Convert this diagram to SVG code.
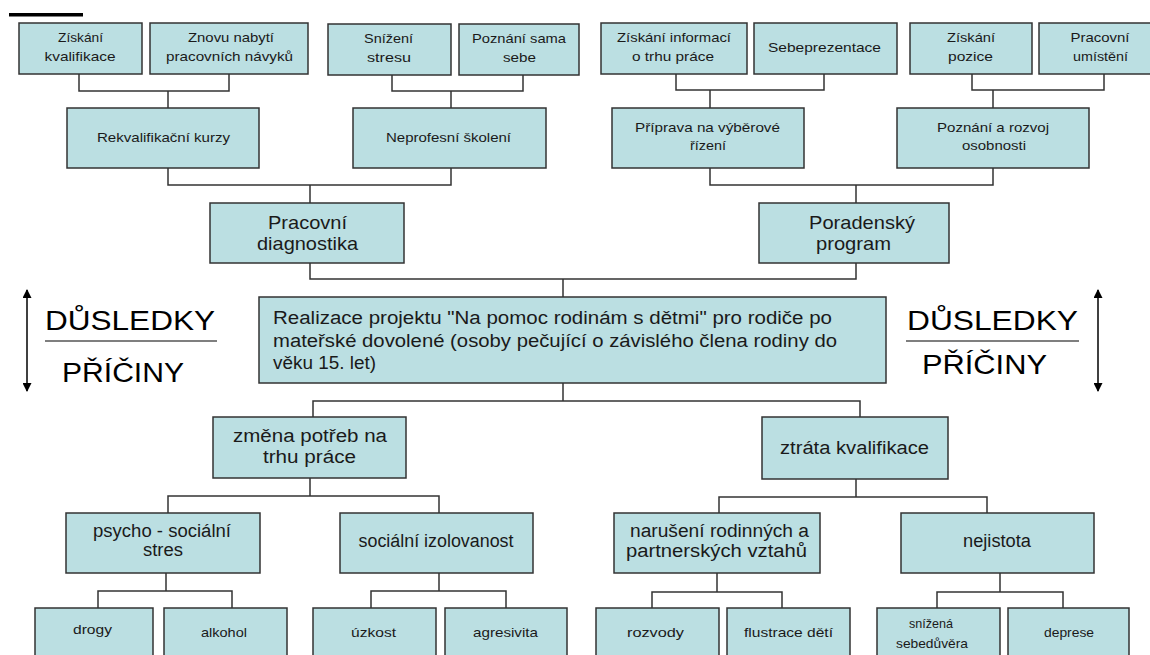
<svg xmlns="http://www.w3.org/2000/svg" width="1150" height="655" viewBox="0 0 1150 655">
<style>
.b{fill:#bbdfe2;stroke:#333;stroke-width:1.5}
.c{fill:none;stroke:#333;stroke-width:1.5}
text{font-family:"Liberation Sans",Arial,sans-serif;fill:#1a1a1a;text-anchor:middle}
.s{font-size:13px}
.m{font-size:18px}
.l{font-size:19px}
.big{font-size:27px;text-anchor:start;fill:#000}
.main{font-size:18px;text-anchor:start}
.ax{stroke:#000;stroke-width:1.5;fill:none}
</style>
<defs>
<marker id="ah" viewBox="0 0 10 10" refX="9" refY="5" markerWidth="10" markerHeight="9" markerUnits="userSpaceOnUse" orient="auto-start-reverse">
<path d="M0,0 L10,5 L0,10 Z" fill="#000"/>
</marker>
</defs>
<rect x="9" y="13" width="74" height="3.5" fill="#000"/>

<g id="connectors">
<path class="c" d="M79,74 V91 H229 V74 M168,91 V108"/>
<path class="c" d="M392,75 V91 H523 V75 M451,91 V108"/>
<path class="c" d="M676,74 V90 H824 V74 M710,90 V108"/>
<path class="c" d="M972,74 V90 H1104 V74 M993,90 V108"/>
<path class="c" d="M168,168 V185 H451 V168 M310,185 V203"/>
<path class="c" d="M710,168 V185 H993 V168 M856,185 V203"/>
<path class="c" d="M310,263 V279 H856 V263 M563,279 V297"/>
<path class="c" d="M563,383 V401 M313,417 V401 H860 V417"/>
<path class="c" d="M310,478 V496 M168,513 V496 H439 V513"/>
<path class="c" d="M856,479 V497 M719,513 V497 H987 V513"/>
<path class="c" d="M166,573 V591 M98,608 V591 H232 V608"/>
<path class="c" d="M439,573 V591 M371,608 V591 H506 V608"/>
<path class="c" d="M717,573 V592 M652,608 V592 H782 V608"/>
<path class="c" d="M1000,573 V592 M937,608 V592 H1063 V608"/>
</g>

<g id="n-ziskani-kval"><rect class="b" x="19" y="23" width="123" height="51"/><text class="s" x="80.5" y="42" textLength="45" lengthAdjust="spacingAndGlyphs">Získání</text><text class="s" x="80" y="61" textLength="71" lengthAdjust="spacingAndGlyphs">kvalifikace</text></g>
<g id="n-znovu"><rect class="b" x="150" y="23" width="158" height="51"/><text class="s" x="231" y="42" textLength="86" lengthAdjust="spacingAndGlyphs">Znovu nabytí</text><text class="s" x="229.5" y="61" textLength="127" lengthAdjust="spacingAndGlyphs">pracovních návyků</text></g>
<g id="n-snizeni"><rect class="b" x="328" y="24" width="123" height="51"/><text class="s" x="388.5" y="43" textLength="49" lengthAdjust="spacingAndGlyphs">Snížení</text><text class="s" x="389" y="62" textLength="44" lengthAdjust="spacingAndGlyphs">stresu</text></g>
<g id="n-poznani-sama"><rect class="b" x="459" y="24" width="120" height="51"/><text class="s" x="519" y="43" textLength="94" lengthAdjust="spacingAndGlyphs">Poznání sama</text><text class="s" x="519.5" y="62" textLength="33" lengthAdjust="spacingAndGlyphs">sebe</text></g>
<g id="n-ziskani-inf"><rect class="b" x="601" y="23" width="146" height="51"/><text class="s" x="674" y="42" textLength="114" lengthAdjust="spacingAndGlyphs">Získání informací</text><text class="s" x="673" y="61" textLength="82" lengthAdjust="spacingAndGlyphs">o trhu práce</text></g>
<g id="n-sebeprezentace"><rect class="b" x="754" y="23" width="143" height="51"/><text class="s" x="824.5" y="52" textLength="113" lengthAdjust="spacingAndGlyphs">Sebeprezentace</text></g>
<g id="n-ziskani-pozice"><rect class="b" x="910" y="23" width="122" height="51"/><text class="s" x="971" y="42" textLength="48" lengthAdjust="spacingAndGlyphs">Získání</text><text class="s" x="970.5" y="61" textLength="45" lengthAdjust="spacingAndGlyphs">pozice</text></g>
<g id="n-pracovni-umisteni"><rect class="b" x="1039" y="23" width="122" height="51"/><text class="s" x="1100" y="42" textLength="59" lengthAdjust="spacingAndGlyphs">Pracovní</text><text class="s" x="1100.5" y="61" textLength="55" lengthAdjust="spacingAndGlyphs">umístění</text></g>

<g id="n-rekval"><rect class="b" x="67" y="108" width="192" height="60"/><text class="s" x="163.5" y="142" textLength="133" lengthAdjust="spacingAndGlyphs">Rekvalifikační kurzy</text></g>
<g id="n-neprof"><rect class="b" x="353" y="108" width="193" height="60"/><text class="s" x="448.5" y="142" textLength="125" lengthAdjust="spacingAndGlyphs">Neprofesní školení</text></g>
<g id="n-priprava"><rect class="b" x="612" y="108" width="192" height="60"/><text class="s" x="707.5" y="132" textLength="145" lengthAdjust="spacingAndGlyphs">Příprava na výběrové</text><text class="s" x="708" y="150" textLength="36" lengthAdjust="spacingAndGlyphs">řízení</text></g>
<g id="n-poznani-rozvoj"><rect class="b" x="897" y="108" width="192" height="60"/><text class="s" x="993" y="132" textLength="112" lengthAdjust="spacingAndGlyphs">Poznání a rozvoj</text><text class="s" x="994" y="150" textLength="64" lengthAdjust="spacingAndGlyphs">osobnosti</text></g>

<g id="n-prac-diag"><rect class="b" x="210" y="203" width="194" height="60"/><text class="l" x="307.5" y="229" textLength="79" lengthAdjust="spacingAndGlyphs">Pracovní</text><text class="l" x="307.5" y="250" textLength="101" lengthAdjust="spacingAndGlyphs">diagnostika</text></g>
<g id="n-poradensky"><rect class="b" x="759" y="203" width="190" height="60"/><text class="l" x="862" y="229" textLength="106" lengthAdjust="spacingAndGlyphs">Poradenský</text><text class="l" x="853.5" y="250" textLength="75" lengthAdjust="spacingAndGlyphs">program</text></g>

<g id="n-main"><rect class="b" x="259" y="297" width="627" height="86"/>
<text class="main" x="273" y="324" textLength="559" lengthAdjust="spacingAndGlyphs">Realizace projektu "Na pomoc rodinám s dětmi" pro rodiče po</text>
<text class="main" x="273" y="346.5" textLength="564" lengthAdjust="spacingAndGlyphs">mateřské dovolené (osoby pečující o závislého člena rodiny do</text>
<text class="main" x="273" y="369" textLength="103" lengthAdjust="spacingAndGlyphs">věku 15. let)</text></g>

<g id="legend-left">
<line class="ax" x1="27" y1="290" x2="27" y2="391" marker-start="url(#ah)" marker-end="url(#ah)"/>
<text class="big" x="45" y="330" textLength="170" lengthAdjust="spacingAndGlyphs">DŮSLEDKY</text>
<line x1="45" y1="341" x2="217" y2="341" stroke="#000" stroke-width="1.2"/>
<text class="big" x="62" y="382" textLength="122" lengthAdjust="spacingAndGlyphs">PŘÍČINY</text>
</g>
<g id="legend-right">
<line class="ax" x1="1098" y1="290" x2="1098" y2="391" marker-start="url(#ah)" marker-end="url(#ah)"/>
<text class="big" x="907" y="330" textLength="171" lengthAdjust="spacingAndGlyphs">DŮSLEDKY</text>
<line x1="906" y1="341" x2="1079" y2="341" stroke="#000" stroke-width="1.2"/>
<text class="big" x="922" y="374" textLength="125" lengthAdjust="spacingAndGlyphs">PŘÍČINY</text>
</g>

<g id="n-zmena"><rect class="b" x="213" y="417" width="193" height="61"/><text class="m" x="310" y="442" textLength="154" lengthAdjust="spacingAndGlyphs">změna potřeb na</text><text class="m" x="309.5" y="463" textLength="93" lengthAdjust="spacingAndGlyphs">trhu práce</text></g>
<g id="n-ztrata"><rect class="b" x="762" y="417" width="186" height="62"/><text class="m" x="854.5" y="454" textLength="149" lengthAdjust="spacingAndGlyphs">ztráta kvalifikace</text></g>

<g id="n-psycho"><rect class="b" x="66" y="513" width="194" height="60"/><text class="m" x="162" y="537" textLength="138" lengthAdjust="spacingAndGlyphs">psycho - sociální</text><text class="m" x="163" y="556" textLength="40" lengthAdjust="spacingAndGlyphs">stres</text></g>
<g id="n-izolovanost"><rect class="b" x="340" y="513" width="193" height="60"/><text class="m" x="436" y="547" textLength="155" lengthAdjust="spacingAndGlyphs">sociální izolovanost</text></g>
<g id="n-naruseni"><rect class="b" x="614" y="513" width="206" height="60"/><text class="m" x="719.5" y="537" textLength="179" lengthAdjust="spacingAndGlyphs">narušení rodinných  a</text><text class="m" x="716.5" y="557" textLength="181" lengthAdjust="spacingAndGlyphs">partnerských vztahů</text></g>
<g id="n-nejistota"><rect class="b" x="901" y="513" width="193" height="60"/><text class="m" x="997" y="547" textLength="68" lengthAdjust="spacingAndGlyphs">nejistota</text></g>

<g id="n-drogy"><rect class="b" x="35" y="608" width="118" height="60"/><text class="s" x="92.5" y="634" textLength="39" lengthAdjust="spacingAndGlyphs">drogy</text></g>
<g id="n-alkohol"><rect class="b" x="164" y="608" width="123" height="60"/><text class="s" x="224" y="637" textLength="46" lengthAdjust="spacingAndGlyphs">alkohol</text></g>
<g id="n-uzkost"><rect class="b" x="313" y="608" width="123" height="60"/><text class="s" x="373.5" y="637" textLength="45" lengthAdjust="spacingAndGlyphs">úzkost</text></g>
<g id="n-agresivita"><rect class="b" x="445" y="608" width="122" height="60"/><text class="s" x="505.5" y="637" textLength="65" lengthAdjust="spacingAndGlyphs">agresivita</text></g>
<g id="n-rozvody"><rect class="b" x="596" y="608" width="123" height="60"/><text class="s" x="655.5" y="637" textLength="57" lengthAdjust="spacingAndGlyphs">rozvody</text></g>
<g id="n-flustrace"><rect class="b" x="727" y="608" width="123" height="60"/><text class="s" x="788.5" y="637" textLength="89" lengthAdjust="spacingAndGlyphs">flustrace dětí</text></g>
<g id="n-snizena"><rect class="b" x="877" y="608" width="123" height="60"/><text class="s" x="931" y="628" textLength="44" lengthAdjust="spacingAndGlyphs">snížená</text><text class="s" x="932" y="648" textLength="72" lengthAdjust="spacingAndGlyphs">sebedůvěra</text></g>
<g id="n-deprese"><rect class="b" x="1008" y="608" width="121" height="60"/><text class="s" x="1069" y="637" textLength="50" lengthAdjust="spacingAndGlyphs">deprese</text></g>
</svg>
